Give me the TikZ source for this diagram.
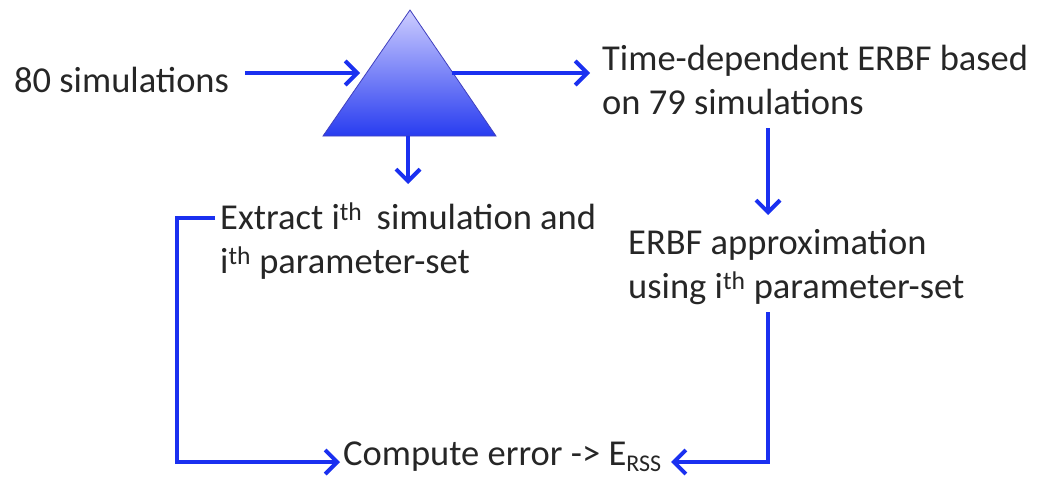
\documentclass[tikz,border=0pt]{standalone}
\usepackage{fontspec}
\setmainfont{Carlito}
\usetikzlibrary{arrows.meta}
\definecolor{arrblue}{RGB}{26,48,240}
\definecolor{trilight}{RGB}{205,205,255}
\definecolor{tridark}{RGB}{40,60,240}
\tikzset{
  flow/.style={draw=arrblue, line width=4pt, -{Straight Barb[length=12pt,width=24pt,line width=4pt]}},
  lbl/.style={font=\fontsize{36.5}{44}\selectfont, text=black!85, align=left, inner sep=0pt, anchor=west}
}
\newcommand{\mysub}[1]{\raisebox{-0.18em}{\fontsize{24}{24}\selectfont #1}}
\begin{document}
\begin{tikzpicture}[x=1pt,y=-1pt]
\useasboundingbox (0,0) rectangle (1046,480);
% triangle
\shade[top color=trilight, bottom color=tridark, draw=blue!50!gray, line width=0.8pt]
  (410,10) -- (496,136) -- (323,136) -- cycle;
\coordinate (triL) at (360,73);
\coordinate (triR) at (452,73);
\coordinate (triB) at (408,136);
% texts
\node[lbl] (sims) at (14,80) {80 simulations};
\node[lbl] (erbf) at (602,80) {Time-dependent ERBF based\\on 79 simulations};
\node[lbl] (extr) at (220,241) {Extract i\textsuperscript{th}\, simulation and\\i\textsuperscript{th} parameter-set};
\node[lbl] (appr) at (628,267) {ERBF approximation\\using i\textsuperscript{th} parameter-set};
\node[lbl, anchor=base west] (comp) at (343,465) {Compute error -> E\mysub{RSS}};
% connectors
\coordinate (s1) at (245,73);
\draw[flow] (s1) -- (triL);
\coordinate (r1) at (590,73);
\draw[flow] (triR) -- (r1);
\coordinate (b1) at (408,184);
\draw[flow] (triB) -- (b1);
\coordinate (e1) at (768,128);
\coordinate (e2) at (768,215);
\draw[flow] (e1) -- (e2);
\coordinate (x1) at (215,218);
\coordinate (x2) at (177,218);
\coordinate (x3) at (177,462);
\coordinate (x4) at (340,462);
\draw[flow] (x1) -- (x2) -- (x3) -- (x4);
\coordinate (a1) at (768,312);
\coordinate (a2) at (768,462);
\coordinate (a3) at (671,462);
\draw[flow] (a1) -- (a2) -- (a3);
\end{tikzpicture}
\end{document}
